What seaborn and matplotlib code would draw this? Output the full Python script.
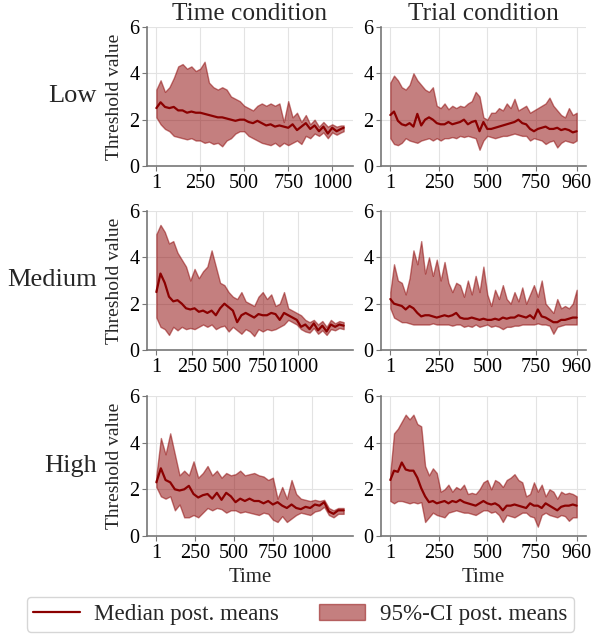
import numpy as np
import pandas as pd
import matplotlib
matplotlib.use("Agg")
import matplotlib.pyplot as plt
from matplotlib.lines import Line2D
from matplotlib.patches import Patch
import seaborn as sns

# ---------------- data ----------------
conditions = ["Time condition", "Trial condition"]
levels = ["Low", "Medium", "High"]
time_ticks = [1, 250, 500, 750, 1000]
trial_ticks = [1, 250, 500, 750, 960]

# Low / Time
low_time_x = [1, 25, 50, 75, 100, 125, 150, 175, 200, 225, 250, 275, 300, 325, 350, 375, 400,
              425, 450, 475, 500, 525, 550, 575, 600, 625, 650, 675, 700, 725, 750, 775, 800,
              825, 850, 875, 900, 925, 950, 975, 1000, 1025, 1050, 1065]
low_time_med = [2.5, 2.75, 2.55, 2.5, 2.55, 2.4, 2.4, 2.3, 2.35, 2.3, 2.3, 2.25, 2.2, 2.15, 2.1,
                2.1, 2.05, 2.0, 1.95, 2.0, 2.0, 1.9, 1.85, 1.95, 1.85, 1.75, 1.8, 1.7, 1.75, 1.7,
                1.65, 1.8, 1.55, 1.7, 1.85, 1.6, 1.75, 1.5, 1.7, 1.4, 1.65, 1.5, 1.6, 1.65]
low_time_up = [3.3, 3.7, 3.2, 3.4, 3.8, 4.3, 4.4, 4.2, 4.3, 4.1, 4.2, 4.5, 3.6, 3.4, 3.3, 3.4,
               3.3, 3.0, 2.9, 2.8, 2.6, 2.5, 2.4, 2.6, 2.7, 2.6, 2.7, 2.6, 2.7, 1.9, 2.8, 2.1,
               2.3, 1.9, 2.2, 1.8, 2.0, 1.7, 1.9, 1.7, 1.8, 1.7, 1.75, 1.75]
low_time_low = [2.1, 1.8, 1.6, 1.5, 1.3, 1.25, 1.2, 1.15, 1.2, 1.1, 1.1, 1.0, 1.05, 0.95, 1.0,
                0.85, 1.1, 1.2, 1.4, 1.5, 1.5, 1.3, 1.2, 1.1, 1.0, 0.95, 0.9, 1.0, 0.85, 1.0,
                0.9, 1.0, 1.1, 0.95, 1.3, 1.2, 1.4, 1.3, 1.45, 1.2, 1.45, 1.35, 1.45, 1.5]

# Low / Trial
trial_x = [1, 20, 40, 60, 80, 100, 120, 140, 160, 180, 200, 220, 240, 260, 280, 300, 320, 340,
           360, 380, 400, 420, 440, 460, 480, 500, 520, 540, 560, 580, 600, 620, 640, 660, 680,
           700, 720, 740, 760, 780, 800, 820, 840, 860, 880, 900, 920, 940, 960]
low_trial_med = [2.2, 2.35, 1.95, 1.8, 1.75, 1.85, 1.7, 2.25, 1.75, 2.0, 2.1, 2.0, 1.85, 1.8,
                 1.8, 1.9, 1.8, 1.85, 1.9, 2.0, 1.8, 1.9, 1.95, 1.5, 1.9, 1.6, 1.6, 1.65, 1.7,
                 1.75, 1.8, 1.85, 1.9, 2.0, 1.85, 1.8, 1.6, 1.5, 1.6, 1.65, 1.7, 1.6, 1.6, 1.65,
                 1.55, 1.6, 1.55, 1.45, 1.5]
low_trial_up = [3.6, 3.9, 3.7, 3.4, 3.3, 3.5, 4.0, 3.7, 3.5, 3.3, 3.2, 3.4, 2.6, 2.5, 2.7, 2.45,
                2.6, 2.5, 2.6, 2.55, 2.7, 2.8, 3.2, 3.0, 2.1, 2.0, 2.3, 2.3, 2.5, 2.4, 2.7, 2.5,
                2.9, 2.4, 2.5, 2.6, 2.3, 2.4, 2.5, 2.6, 2.7, 2.95, 2.6, 2.4, 2.2, 2.1, 2.5, 2.2, 2.3]
low_trial_low = [1.2, 0.95, 0.9, 1.0, 1.2, 1.1, 1.05, 1.0, 1.1, 1.15, 1.2, 1.1, 1.2, 1.1, 1.2,
                 1.2, 1.25, 1.2, 1.3, 1.25, 1.3, 1.25, 1.2, 0.7, 1.1, 1.3, 1.25, 1.2, 1.25, 1.3,
                 1.3, 1.35, 1.4, 1.35, 1.3, 1.3, 1.1, 1.2, 1.15, 1.1, 0.95, 1.05, 1.1, 0.8, 1.0,
                 1.1, 1.05, 1.0, 1.1]

# Medium / Time
med_time_x = [1, 30, 60, 90, 120, 150, 180, 210, 240, 270, 300, 330, 360, 390, 420, 450, 480,
              510, 540, 570, 600, 630, 660, 690, 720, 750, 780, 810, 840, 870, 900, 930, 960,
              990, 1020, 1050, 1080, 1110, 1140, 1170, 1200, 1230, 1260, 1290, 1320]
med_time_med = [2.5, 3.3, 2.9, 2.3, 2.1, 2.15, 2.0, 1.8, 1.75, 1.8, 1.65, 1.7, 1.6, 1.7, 1.5,
                1.8, 2.0, 1.85, 1.7, 1.2, 1.5, 1.6, 1.5, 1.4, 1.55, 1.5, 1.5, 1.6, 1.55, 1.3,
                1.6, 1.5, 1.4, 1.3, 1.0, 1.1, 0.9, 1.15, 0.85, 1.05, 0.8, 1.1, 1.0, 1.1, 1.05]
med_time_up = [5.0, 5.4, 5.1, 4.6, 4.7, 4.2, 3.9, 3.6, 3.0, 3.5, 3.1, 3.4, 3.6, 4.3, 3.6, 2.9,
               2.8, 2.5, 2.3, 2.2, 2.5, 2.1, 2.0, 1.9, 2.3, 2.5, 2.2, 2.4, 1.9, 2.0, 2.5, 1.8,
               1.7, 1.6, 1.5, 1.3, 1.2, 1.3, 1.1, 1.25, 1.0, 1.3, 1.15, 1.25, 1.2]
med_time_low = [1.4, 1.0, 0.9, 0.65, 1.0, 0.85, 1.0, 0.9, 0.95, 0.9, 1.0, 1.1, 1.0, 1.1, 0.9,
                1.0, 1.05, 0.8, 1.0, 0.85, 0.7, 0.9, 0.8, 0.6, 0.9, 0.8, 0.9, 0.85, 0.9, 1.0,
                1.1, 1.3, 1.2, 1.1, 0.9, 0.8, 0.75, 0.95, 0.7, 0.85, 0.65, 0.9, 0.85, 0.95, 0.9]

# Medium / Trial
med_trial_med = [2.2, 2.0, 1.95, 1.9, 1.75, 1.9, 1.8, 1.6, 1.45, 1.5, 1.5, 1.45, 1.4, 1.45,
                 1.5, 1.45, 1.5, 1.6, 1.4, 1.35, 1.35, 1.4, 1.35, 1.3, 1.35, 1.3, 1.3, 1.35,
                 1.3, 1.4, 1.35, 1.4, 1.4, 1.5, 1.45, 1.4, 1.5, 1.35, 1.75, 1.45, 1.4, 1.3, 1.2,
                 1.2, 1.3, 1.3, 1.35, 1.4, 1.4]
med_trial_up = [2.5, 3.7, 3.0, 2.9, 2.4, 3.1, 4.3, 3.7, 4.7, 3.3, 4.0, 3.2, 3.9, 3.0, 3.8,
                2.9, 2.5, 2.9, 2.8, 2.3, 3.0, 2.4, 3.2, 2.5, 3.6, 2.4, 1.9, 2.6, 2.2, 2.8, 2.2,
                2.0, 2.5, 2.1, 2.7, 2.0, 2.4, 2.8, 2.3, 3.0, 2.0, 1.8, 1.6, 2.2, 1.8, 1.9, 1.8,
                2.0, 2.6]
med_trial_low = [1.8, 1.4, 1.3, 1.2, 1.2, 1.15, 1.1, 1.1, 1.1, 1.1, 1.1, 1.15, 1.1, 1.1, 1.1,
                 1.1, 1.05, 1.1, 1.1, 1.0, 1.05, 1.0, 1.1, 1.0, 1.05, 1.1, 1.0, 1.05, 1.0, 0.9,
                 1.0, 1.0, 1.05, 1.05, 1.1, 1.1, 1.1, 1.1, 1.15, 1.1, 1.1, 1.05, 0.7, 1.0, 1.05,
                 1.1, 1.1, 1.1, 1.1]

# High / Time
high_time_x = [1, 30, 60, 90, 120, 150, 180, 210, 240, 270, 300, 330, 360, 390, 420, 450, 480,
               510, 540, 570, 600, 630, 660, 690, 720, 750, 780, 810, 840, 870, 900, 930, 960,
               990, 1020, 1050, 1080, 1110, 1140, 1170, 1205]
high_time_med = [2.3, 2.9, 2.4, 2.3, 2.0, 1.95, 2.0, 2.15, 1.8, 1.65, 1.75, 1.8, 1.6, 1.85,
                 1.55, 1.85, 1.7, 1.45, 1.6, 1.5, 1.6, 1.5, 1.5, 1.4, 1.5, 1.35, 1.45, 1.3, 1.2,
                 1.35, 1.2, 1.15, 1.25, 1.2, 1.35, 1.3, 1.45, 1.05, 0.95, 1.1, 1.1]
high_time_up = [2.6, 4.2, 3.5, 4.4, 3.5, 2.6, 2.8, 2.6, 3.2, 2.5, 2.7, 3.0, 2.6, 2.8, 2.5, 2.7,
                2.6, 2.65, 2.8, 2.6, 2.65, 2.7, 2.6, 2.55, 2.4, 2.5, 1.6, 2.1, 1.6, 2.4, 1.8,
                1.6, 1.55, 1.5, 1.55, 1.5, 1.55, 1.2, 1.1, 1.2, 1.2]
high_time_low = [2.1, 1.7, 1.6, 1.7, 1.1, 1.35, 0.8, 0.8, 0.9, 0.8, 1.0, 1.2, 1.1, 1.2, 1.15,
                 1.0, 1.1, 1.1, 1.0, 1.05, 1.0, 0.95, 0.9, 1.0, 0.95, 0.7, 0.6, 0.85, 0.6, 0.75,
                 0.9, 1.0, 0.95, 0.9, 1.05, 1.1, 1.25, 0.9, 0.8, 0.95, 0.95]

# High / Trial
high_trial_med = [2.4, 2.8, 2.75, 3.15, 2.85, 2.8, 2.8, 2.5, 2.05, 1.7, 1.45, 1.5, 1.4, 1.45,
                  1.5, 1.4, 1.5, 1.45, 1.55, 1.45, 1.4, 1.35, 1.3, 1.4, 1.5, 1.4, 1.35, 1.4, 1.3,
                  1.1, 1.3, 1.3, 1.35, 1.3, 1.25, 1.2, 1.4, 1.3, 1.3, 1.2, 1.4, 1.3, 1.2, 1.1,
                  1.25, 1.3, 1.3, 1.35, 1.3]
high_trial_up = [2.7, 4.4, 4.6, 4.9, 5.2, 5.0, 5.2, 4.8, 4.7, 3.0, 2.6, 2.9, 2.7, 1.9, 2.0,
                 2.2, 1.9, 2.1, 2.0, 2.2, 1.8, 1.85, 1.8, 2.0, 2.3, 2.4, 2.0, 2.4, 2.3, 2.1, 2.4,
                 2.5, 2.65, 2.4, 2.3, 1.7, 1.8, 2.3, 1.9, 2.2, 1.7, 2.0, 1.9, 1.6, 1.9, 1.8, 1.85,
                 1.8, 1.7]
high_trial_low = [1.5, 1.4, 1.5, 1.5, 1.45, 1.4, 1.45, 1.4, 1.45, 0.6, 0.8, 1.0, 0.9, 0.85,
                  0.8, 1.0, 1.05, 1.1, 1.05, 1.0, 1.0, 0.95, 0.9, 1.0, 1.1, 1.1, 1.0, 1.05, 0.9,
                  0.6, 0.9, 0.85, 0.8, 0.9, 1.0, 1.0, 0.85, 0.8, 0.4, 0.9, 1.0, 0.9, 0.85, 0.8,
                  0.9, 0.85, 0.65, 0.8, 0.8]

panels = {
    ("Low", "Time condition"): (low_time_x, low_time_med, low_time_low, low_time_up),
    ("Low", "Trial condition"): (trial_x, low_trial_med, low_trial_low, low_trial_up),
    ("Medium", "Time condition"): (med_time_x, med_time_med, med_time_low, med_time_up),
    ("Medium", "Trial condition"): (trial_x, med_trial_med, med_trial_low, med_trial_up),
    ("High", "Time condition"): (high_time_x, high_time_med, high_time_low, high_time_up),
    ("High", "Trial condition"): (trial_x, high_trial_med, high_trial_low, high_trial_up),
}

# ---------------- style ----------------
sns.set_style("whitegrid", {
    "axes.edgecolor": "#777777",
    "grid.color": "#e3e3e3",
    "xtick.bottom": True,
    "ytick.left": True,
    "xtick.color": "#777777",
    "ytick.color": "#777777",
})
plt.rcParams["font.family"] = ["Liberation Serif", "DejaVu Serif"]
plt.rcParams["axes.linewidth"] = 1.2
plt.rcParams["xtick.major.size"] = 3.5
plt.rcParams["ytick.major.size"] = 3.5

W, H = 592, 634
fig = plt.figure(figsize=(W / 100, H / 100), dpi=100)

col_left = [147, 381]
col_width = [206, 205]
row_top = [27, 211, 396]
row_height = [139, 139, 140]

line_color = "#8b0000"

for r, lev in enumerate(levels):
    for c, cond in enumerate(conditions):
        ax = fig.add_axes([col_left[c] / W, 1 - (row_top[r] + row_height[r]) / H,
                           col_width[c] / W, row_height[r] / H])
        x, med, lo, up = panels[(lev, cond)]
        df = pd.DataFrame({"Time": x, "median": med, "lower": lo, "upper": up})
        ax.fill_between(df["Time"], df["lower"], df["upper"], color=line_color,
                        alpha=0.5, linewidth=1.0)
        sns.lineplot(data=df, x="Time", y="median", ax=ax, color=line_color,
                     linewidth=1.6, legend=False, estimator=None)
        ax.set_ylim(0, 6)
        ax.set_yticks([0, 2, 4, 6])
        ax.set_xticks(time_ticks if c == 0 else trial_ticks)
        ax.margins(x=0.05)
        for s in ["top", "right"]:
            ax.spines[s].set_visible(False)
        ax.tick_params(axis="both", labelsize=14.5, labelcolor="black", pad=2)
        ax.grid(True, linewidth=0.8)
        if c == 0:
            ax.set_ylabel("Threshold value", fontsize=14)
            ax.yaxis.set_label_coords(-0.115, 0.5)
        else:
            ax.set_ylabel("")
        if r == 2:
            ax.set_xlabel("Time", fontsize=15, labelpad=4)
        else:
            ax.set_xlabel("")
        if r == 0:
            ax.set_title(cond, fontsize=18.3, pad=5)
        if c == 0:
            fig.text(97 / W, 1 - (row_top[r] + row_height[r] / 2) / H, lev,
                     ha="right", va="center", fontsize=19)

handles = [Line2D([0], [0], color=line_color, linewidth=1.6),
           Patch(facecolor=line_color, edgecolor=line_color, alpha=0.5)]
fig.legend(handles, ["Median post. means", "95%-CI post. means"],
           loc="lower center", bbox_to_anchor=(300.5 / W, 2 / H),
           ncol=2, fontsize=16.6, handlelength=2.0, handleheight=0.75,
           handletextpad=0.64, columnspacing=1.74, borderpad=0.3,
           borderaxespad=0, frameon=True)

fig.savefig("out.png", dpi=100)
